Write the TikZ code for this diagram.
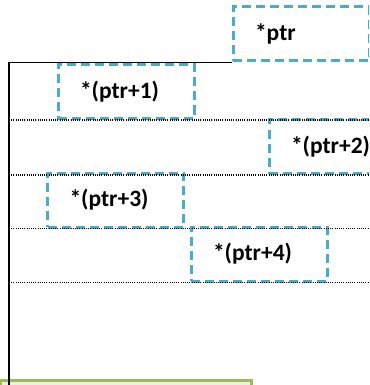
\documentclass[tikz,border=0pt]{standalone}
\usepackage{fontspec}
\setmainfont{Carlito}
\usepackage{xcolor}
\usetikzlibrary{positioning,calc}
\definecolor{cellblue}{HTML}{4BACC6}
\definecolor{leafgreen}{HTML}{9BBB59}
\definecolor{leaffill}{HTML}{EBF1DE}
\tikzset{
  cell/.style={draw=cellblue, line width=3pt, dash pattern=on 9pt off 5pt,
    minimum width=136pt, minimum height=54pt, inner xsep=22pt, inner ysep=0pt,
    text width=92pt, align=left, font=\fontsize{23.5}{26}\selectfont\bfseries},
  wall/.style={draw=black, line width=1.8pt},
  sep/.style={draw=black, line width=1.1pt, dash pattern=on 1pt off 1.2pt},
  leaf/.style={draw=leafgreen, fill=leaffill, line width=2.8pt,
    minimum width=251pt, minimum height=40pt}
}
\begin{document}
\begin{tikzpicture}[x=1pt, y=-1pt]
  \useasboundingbox (0,0) rectangle (369,385);
  \clip (0,0) rectangle (369,385);
  \coordinate (base) at (9,395);
  \coordinate (rim) at (369,0);

  % dereferenced cells
  \node[cell] (p0) at (301,34) {*ptr};
  \node[cell] (p1) at (126,91.5) {*(ptr+1)};
  \node[cell] (p2) at (337,146.5) {*(ptr+2)};
  \node[cell] (p3) at (115.5,200) {*(ptr+3)};
  \node[cell] (p4) at (259,254) {*(ptr+4)};

  % row separators
  \foreach \n in {1,...,4}
    \draw[sep] (base |- p\n.south) -- (rim |- p\n.south);

  % bottom box
  \node[leaf, anchor=north west] (lf) at (-1,379) {};

  \draw[wall] (base) |- (p0.south west);
\end{tikzpicture}
\end{document}
